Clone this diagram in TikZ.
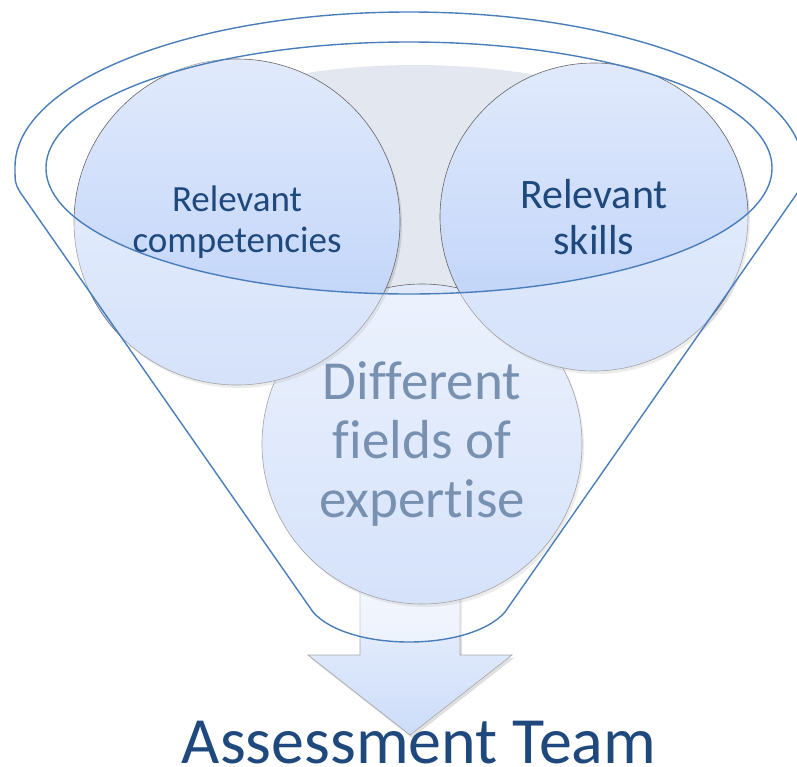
\documentclass[tikz,border=0pt]{standalone}
\usepackage{fontspec}
\setmainfont{Carlito}[Ligatures=NoCommon]
\usepackage{tikz}
\usetikzlibrary{shadows, positioning}

\definecolor{rimblue}{HTML}{4A7EBB}
\definecolor{txtblue}{HTML}{1F497D}
\definecolor{bubtop}{HTML}{E1EAFC}
\definecolor{bubbot}{HTML}{B9CFF8}
\definecolor{backgray}{HTML}{E3E8F0}
\definecolor{arrtop}{HTML}{F2F6FE}
\definecolor{arrbot}{HTML}{CCDCF9}

\begin{document}
\begin{tikzpicture}[x=1pt, y=-1pt,
    bubble/.style={circle, draw=gray!80!black, line width=0.6pt, top color=bubtop, bottom color=bubbot,
      inner sep=0pt, align=center, text=txtblue,
      drop shadow={opacity=0.25, shadow xshift=2pt, shadow yshift=-3pt}},
    rim/.style={draw=rimblue, line width=1.4pt}]
\useasboundingbox (0,0) rectangle (797,766);
% Background
\fill[backgray] (415,200) ellipse [x radius=320, y radius=135];
% Arrow
\path[draw=gray!70, line width=0.6pt, top color=arrtop, bottom color=arrbot,
  drop shadow={opacity=0.25, shadow xshift=2pt, shadow yshift=-3pt}]
  (360,560) -- (460,560) -- (460,655) -- (512,655) -- (410,735) -- (308,655) -- (360,655) -- cycle;
% Circles
\node[bubble, minimum size=320pt, font=\fontsize{55}{59}\selectfont] (fields) at (422,444) {Different\\fields of\\expertise};
\node[bubble, minimum size=326pt, font=\fontsize{37}{41}\selectfont] (comp) at (237,222) {Relevant\\competencies};
\node[bubble, minimum size=308pt, font=\fontsize{42}{46}\selectfont] (skills) at (594,217) {Relevant\\skills};
% Funnel
\path[fill=white, fill opacity=0.4, even odd rule]
  (20,192) .. controls (15,183) .. (15,167)
  arc[start angle=180, end angle=360, x radius=394, y radius=155]
  .. controls (803,183) .. (798,192) -- (505,612) .. controls (470,652) and (348,652) .. (313,612) -- cycle
  (409,168) ellipse [x radius=363, y radius=126];
\draw[rim] (20,192) .. controls (15,183) .. (15,167)
  arc[start angle=180, end angle=360, x radius=394, y radius=155]
  .. controls (803,183) .. (798,192) -- (505,612) .. controls (470,652) and (348,652) .. (313,612) -- cycle;
\draw[rim] (409,168) ellipse [x radius=363, y radius=126];
% Label
\node[anchor=base, inner sep=0pt, text=txtblue, font=\fontsize{66}{78}\selectfont] (team) at (419,763) {Assessment Team};
\end{tikzpicture}
\end{document}
